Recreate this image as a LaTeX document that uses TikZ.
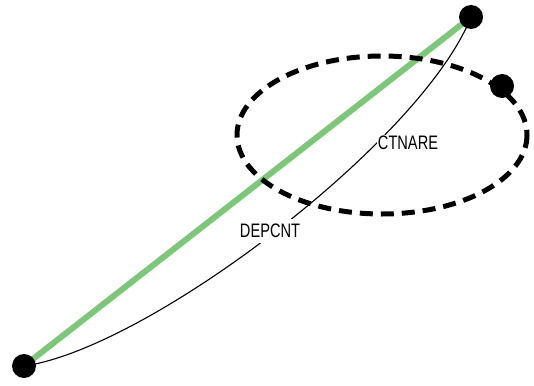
\documentclass[tikz,border=0pt]{standalone}
\usepackage{fontspec}
\setmainfont{Liberation Sans}[FakeStretch=0.75]
\definecolor{linkgreen}{RGB}{125,200,120}

\begin{document}
\begin{tikzpicture}[x=1pt,y=-1pt]
  \useasboundingbox (0,0) rectangle (534,385);
  \foreach \i/\x/\y in {0/24/366, 1/471/17, 2/502/86}{
    \coordinate (p\i) at (\x, \y);
  }
  \coordinate (c) at (382,135);

  \draw[linkgreen, line width=6pt] (p0) -- (p1);
  \draw[line width=5pt, dash pattern=on 13pt off 8pt] (c) ellipse (145 and 79);
  \draw[line width=1.1pt] (p0) .. controls (150,348) and (422,140) .. (p1);

  \node[fill=white, inner sep=5pt, font=\fontsize{19.5}{20}\selectfont] (dep) at (270,231) {DEPCNT};
  \node[fill=white, inner sep=1pt, font=\fontsize{19.5}{20}\selectfont] (ctn) at (408,143) {CTNARE};

  \foreach \i in {0,1,2}{
    \node[circle,fill,color=black,minimum size=24pt,inner sep=0pt] (dot\i) at (p\i) {};
  }
\end{tikzpicture}
\end{document}
